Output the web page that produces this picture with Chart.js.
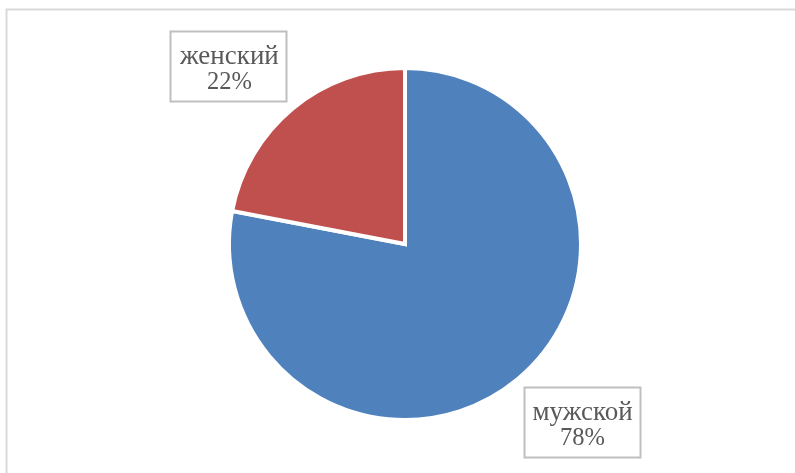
<!DOCTYPE html>
<html>
<head>
<meta charset="utf-8">
<script src="https://cdn.jsdelivr.net/npm/chart.js@4"></script>
<style>
  html, body { margin: 0; padding: 0; background: #ffffff; }
  #wrap { width: 795px; height: 473px; position: relative; }
</style>
</head>
<body>
<div id="wrap"><canvas id="c" width="795" height="473"></canvas></div>
<script>
// Respondents by gender
const categories = ['мужской', 'женский'];
const shares = [78, 22];
const sliceColors = ['#4F81BD', '#C0504D'];

const NAME_FONT = '27px "Liberation Serif", "Times New Roman", serif';
const PCT_FONT = '24.5px "Liberation Serif", "Times New Roman", serif';
const LABEL_COLOR = '#595959';
const BOX_BORDER = '#BFBFBF';

// Outer frame of the chart area (top and left edges visible)
const framePlugin = {
  id: 'frame',
  beforeDraw(chart) {
    const ctx = chart.ctx;
    ctx.save();
    ctx.strokeStyle = '#D9D9D9';
    ctx.lineWidth = 2;
    ctx.beginPath();
    ctx.moveTo(chart.width + 2, 9.5);
    ctx.lineTo(6.5, 9.5);
    ctx.lineTo(6.5, chart.height + 2);
    ctx.stroke();
    ctx.restore();
  }
};

// Boxed category + percentage labels placed just outside each slice
const boxLabelPlugin = {
  id: 'boxLabels',
  afterDatasetsDraw(chart) {
    const ctx = chart.ctx;
    const meta = chart.getDatasetMeta(0);
    const total = shares.reduce((a, b) => a + b, 0);
    ctx.save();
    ctx.textAlign = 'center';
    ctx.textBaseline = 'alphabetic';
    meta.data.forEach((arc, i) => {
      const p = arc.getProps(['x', 'y', 'startAngle', 'endAngle', 'outerRadius'], true);
      const mid = (p.startAngle + p.endAngle) / 2;
      const cos = Math.cos(mid), sin = Math.sin(mid);
      const name = categories[i];
      const pct = Math.round(shares[i] / total * 100) + '%';
      const w = 116, h = 70;
      const d = p.outerRadius + 10;
      const cx = p.x + d * cos + Math.sign(cos) * w / 2;
      const cy = p.y + d * sin + Math.sign(sin) * h / 2;
      ctx.strokeStyle = BOX_BORDER;
      ctx.lineWidth = 2;
      ctx.strokeRect(Math.round(cx - w / 2) + 0.5, Math.round(cy - h / 2) + 0.5, w, h);
      ctx.fillStyle = LABEL_COLOR;
      ctx.font = NAME_FONT;
      ctx.fillText(name, cx + 1, cy - 2);
      ctx.font = PCT_FONT;
      ctx.fillText(pct, cx + 1, cy + 23);
    });
    ctx.restore();
  }
};

new Chart(document.getElementById('c'), {
  type: 'pie',
  data: {
    labels: categories,
    datasets: [{
      data: shares,
      backgroundColor: sliceColors,
      borderColor: '#FFFFFF',
      borderWidth: 4,
      borderJoinStyle: 'miter'
    }]
  },
  options: {
    responsive: false,
    animation: false,
    radius: 176,
    rotation: 0,
    layout: { padding: { left: 15, right: 0, top: 15, bottom: 0 } },
    plugins: {
      legend: { display: false },
      tooltip: { enabled: false }
    }
  },
  plugins: [framePlugin, boxLabelPlugin]
});
</script>
</body>
</html>
